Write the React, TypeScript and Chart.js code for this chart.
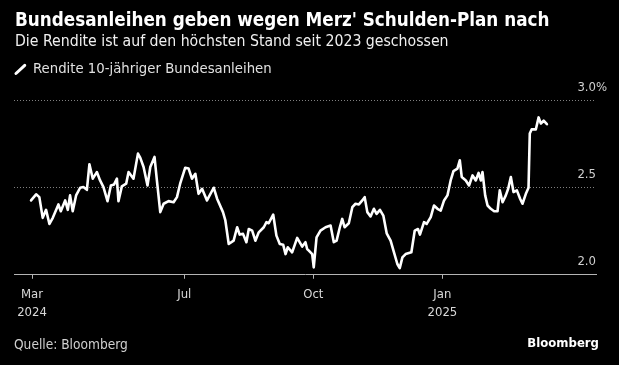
import { useEffect, useRef } from "react";
import { Chart, registerables } from "chart.js";

Chart.register(...registerables);

// Day offsets counted from 1 March 2024
const dayOffsets = [
  12.8, 16.4, 18.7, 21.1, 23.5, 25.9, 28.3, 32.3, 34.0, 37.1,
  39.0, 40.6, 42.5, 44.9, 47.8, 50.1, 52.6, 54.4, 56.8, 59.7,
  62.0, 64.4, 67.3, 69.7, 72.0, 74.0, 75.1, 77.5, 80.6, 82.3,
  85.8, 89.0, 90.6, 93.0, 95.8, 97.8, 100.8, 102.5, 104.9, 107.3,
  110.8, 114.4, 116.8, 119.2, 122.7, 125.1, 127.5, 129.9, 132.2, 134.7,
  138.2, 143.0, 145.4, 149.6, 151.3, 153.7, 157.2, 159.7, 161.5, 163.9,
  166.3, 168.0, 170.4, 172.7, 175.1, 178.7, 180.6, 182.2, 185.4, 187.7,
  190.1, 192.5, 194.2, 195.8, 198.9, 202.5, 206.1, 208.4, 209.6,
  210.8, 213.2, 214.3, 216.3, 219.1, 222.7, 226.3, 228.6, 230.6, 232.9,
  234.6, 236.3, 239.3, 241.8, 244.1, 246.5, 248.9, 250.6, 252.5, 254.8,
  257.2, 259.1, 261.5, 263.9, 266.3, 269.1, 271.5, 273.9, 275.6, 277.5,
  279.8, 283.9, 286.3, 288.6, 290.0, 292.9, 294.8, 297.7, 300.0, 302.5,
  304.8, 307.2, 309.6, 311.9, 313.9, 316.7, 318.4, 319.8, 322.7, 325.0,
  327.5, 329.8, 331.8, 333.4, 334.6, 336.5, 338.2, 340.5, 342.9, 345.3,
  346.9, 348.9, 351.2, 352.9, 354.8, 356.7, 359.1, 361.4, 363.1, 365.5,
  367.4, 368.3, 369.6, 372.6, 374.6, 376.2, 378.2, 380.5,
];

// Rendite 10-jähriger Bundesanleihen, %
const yields = [
  2.427, 2.462, 2.446, 2.327, 2.373, 2.292, 2.327, 2.404, 2.365, 2.427,
  2.373, 2.456, 2.365, 2.456, 2.5, 2.504, 2.488, 2.635, 2.552, 2.59,
  2.542, 2.504, 2.423, 2.513, 2.519, 2.552, 2.423, 2.508, 2.523, 2.59,
  2.552, 2.696, 2.673, 2.619, 2.513, 2.619, 2.677, 2.542, 2.36, 2.408,
  2.423, 2.417, 2.446, 2.527, 2.615, 2.61, 2.552, 2.58, 2.465, 2.494,
  2.427, 2.5, 2.437, 2.36, 2.312, 2.177, 2.196, 2.273, 2.231, 2.235,
  2.187, 2.263, 2.254, 2.196, 2.244, 2.273, 2.302, 2.296, 2.346, 2.225,
  2.177, 2.173, 2.119, 2.158, 2.129, 2.212, 2.162, 2.187, 2.148,
  2.139, 2.119, 2.042, 2.215, 2.254, 2.273, 2.283, 2.187, 2.196, 2.273,
  2.321, 2.273, 2.296, 2.388, 2.408, 2.404, 2.427, 2.446, 2.36, 2.335,
  2.379, 2.35, 2.373, 2.34, 2.238, 2.196, 2.129, 2.062, 2.038, 2.1,
  2.119, 2.129, 2.254, 2.263, 2.231, 2.302, 2.292, 2.331, 2.398, 2.379,
  2.369, 2.427, 2.456, 2.542, 2.596, 2.61, 2.658, 2.562, 2.542, 2.513,
  2.571, 2.542, 2.585, 2.542, 2.59, 2.456, 2.398, 2.379, 2.365, 2.365,
  2.485, 2.417, 2.456, 2.494, 2.562, 2.475, 2.485, 2.437, 2.408, 2.465,
  2.5, 2.812, 2.835, 2.835, 2.904, 2.869, 2.885, 2.865,
];

const xTickDays = [13.5, 122, 214, 306];
const xTickLabels = [["Mar", "2024"], ["Jul"], ["Oct"], ["Jan", "2025"]];
const yTickValues = [2.0, 2.5, 3.0];
const yTickLabels = ["2.0", "2.5", "3.0"];

const FONT = "'DejaVu Sans Condensed', 'DejaVu Sans', sans-serif";

const yLabelPlugin = {
  id: "yLabels",
  afterDraw(chart: any) {
    const { ctx, chartArea } = chart;
    const ys = chart.scales.y;
    ctx.save();
    ctx.font = `13px ${FONT}`;
    ctx.fillStyle = "#d0d0d0";
    ctx.textBaseline = "middle";
    yTickValues.forEach((v, i) => {
      const y = ys.getPixelForValue(v) - 13.5;
      ctx.textAlign = "right";
      ctx.fillText(yTickLabels[i], chartArea.right, y);
      if (i === yTickValues.length - 1) {
        ctx.textAlign = "left";
        ctx.fillText("%", chartArea.right, y);
      }
    });
    ctx.restore();
  },
};

export default function App() {
  const canvasRef = useRef<HTMLCanvasElement | null>(null);

  useEffect(() => {
    document.body.style.margin = "0";
    document.body.style.background = "#000";
    const canvas = canvasRef.current;
    if (!canvas) return;
    const chart = new Chart(canvas, {
      type: "line",
      data: {
        datasets: [
          {
            label: "Rendite 10-jähriger Bundesanleihen",
            data: dayOffsets.map((d, i) => ({ x: d, y: yields[i] })),
            borderColor: "#ffffff",
            borderWidth: 2.6,
            pointRadius: 0,
            tension: 0,
            borderJoinStyle: "round",
            borderCapStyle: "round",
          },
        ],
      },
      options: {
        animation: false,
        responsive: false,
        devicePixelRatio: 1,
        events: [],
        layout: { padding: { left: 14, right: 23, top: 100.7, bottom: 36 } },
        plugins: { legend: { display: false }, tooltip: { enabled: false } },
        scales: {
          x: {
            type: "linear",
            min: 0.64,
            max: 415.5,
            afterBuildTicks: (scale: any) => {
              scale.ticks = xTickDays.map((v) => ({ value: v }));
            },
            ticks: {
              autoSkip: false,
              maxRotation: 0,
              minRotation: 0,
              padding: 7.3,
              color: "#d8d8d8",
              font: { family: FONT, size: 13, lineHeight: 1.37 },
              callback: (_v: any, i: number) => xTickLabels[i],
            },
            grid: {
              drawOnChartArea: false,
              drawTicks: true,
              tickLength: 4,
              color: "#b4b4b4",
            },
            border: { display: true, color: "#b4b4b4", width: 1 },
          },
          y: {
            type: "linear",
            position: "right",
            min: 2.0,
            max: 3.0,
            afterBuildTicks: (scale: any) => {
              scale.ticks = yTickValues.map((v) => ({ value: v }));
            },
            ticks: { display: false },
            grid: {
              drawTicks: false,
              lineWidth: 1,
              color: (c: any) => (c.tick && c.tick.value === 2 ? "rgba(0,0,0,0)" : "#808080"),
            },
            border: { display: false, dash: [1, 2] },
          },
        },
      },
      plugins: [yLabelPlugin],
    } as any);
    return () => chart.destroy();
  }, []);

  const textBase: any = { position: "absolute", fontFamily: FONT, whiteSpace: "nowrap", lineHeight: 1 };

  return (
    <div style={{ position: "relative", width: 619, height: 365, background: "#000", overflow: "hidden" }}>
      <canvas ref={canvasRef} width={619} height={365} style={{ position: "absolute", left: 0, top: 0, width: 619, height: 365 }} />
      <div style={{ ...textBase, left: 15, top: 11, fontSize: 18.7, fontWeight: "bold", color: "#fff" }}>
        Bundesanleihen geben wegen Merz' Schulden-Plan nach
      </div>
      <div style={{ ...textBase, left: 15, top: 33, fontSize: 15.7, color: "#f0f0f0" }}>
        Die Rendite ist auf den höchsten Stand seit 2023 geschossen
      </div>
      <div
        style={{
          position: "absolute",
          left: 19,
          top: 61.7,
          width: 3,
          height: 14.6,
          background: "#fff",
          borderRadius: 1.5,
          transform: "rotate(47deg)",
        }}
      />
      <div style={{ ...textBase, left: 33, top: 61, fontSize: 14.75, color: "#e0e0e0" }}>
        Rendite 10-jähriger Bundesanleihen
      </div>
      <div style={{ ...textBase, left: 14, top: 337.5, fontSize: 13.6, color: "#d0d0d0" }}>
        Quelle: Bloomberg
      </div>
      <div style={{ ...textBase, right: 20, top: 335.8, fontSize: 13, fontWeight: "bold", color: "#fff" }}>
        Bloomberg
      </div>
    </div>
  );
}
